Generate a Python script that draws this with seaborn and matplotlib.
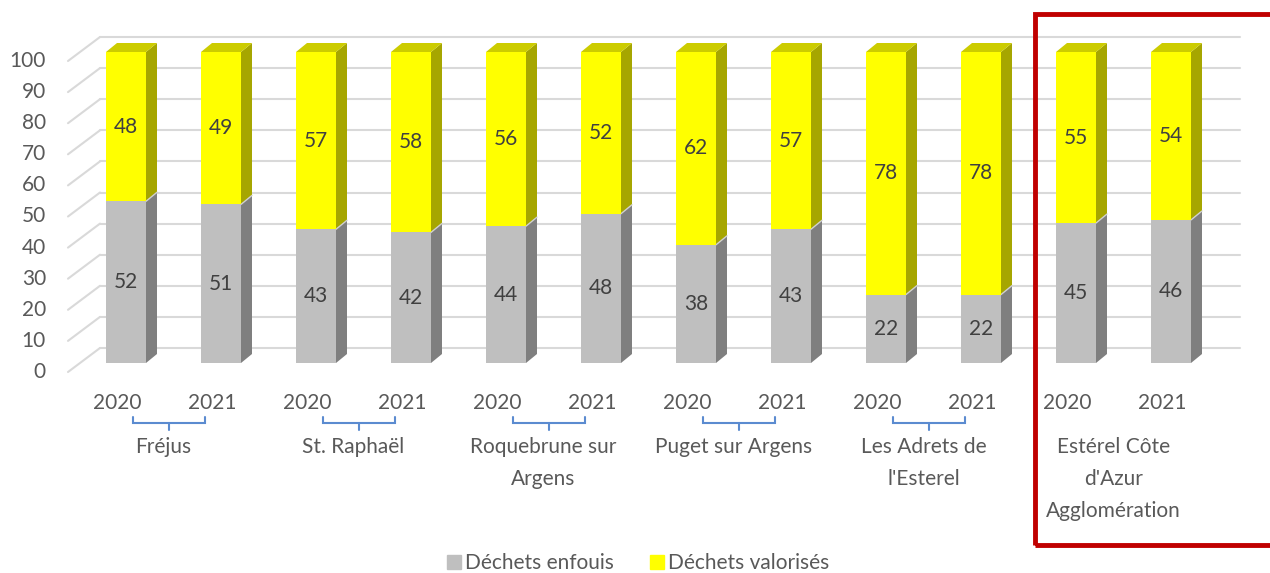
import numpy as np
import pandas as pd
import matplotlib
matplotlib.use("Agg")
import matplotlib.pyplot as plt
from matplotlib.patches import Polygon, Rectangle
from matplotlib.lines import Line2D
import seaborn as sns

# ---------------- data ----------------
groups = ["Fréjus", "St. Raphaël", "Roquebrune sur\nArgens", "Puget sur Argens",
          "Les Adrets de\nl'Esterel", "Estérel Côte\nd'Azur\nAgglomération"]
years = ["2020", "2021"]
enfouis = [52, 51, 43, 42, 44, 48, 38, 43, 22, 22, 45, 46]
valorises = [48, 49, 57, 58, 56, 52, 62, 57, 78, 78, 55, 54]
yticks = [0, 10, 20, 30, 40, 50, 60, 70, 80, 90, 100]
series_names = ["Déchets enfouis", "Déchets valorisés"]

# ---------------- style ----------------
sns.set_style("white")
plt.rcParams["font.family"] = ["Lato", "DejaVu Sans"]
TXT = "#595959"
GRAY_F, GRAY_S = "#BFBFBF", "#7F7F7F"
YEL_F, YEL_S, YEL_T = "#FFFF00", "#A6A600", "#CCCC00"
GRID = "#D9D9D9"
FS = 15

W, H = 1270, 573
fig = plt.figure(figsize=(W / 100, H / 100), dpi=100)
ax = fig.add_axes([0, 0, 1, 1])

# pixel <-> data helpers (layout only)
X0, XS = 126.0, 95.0     # px of first bar centre, px per category
Y0, YS = 363.0, 3.11     # px of value 0 (front), px per unit
def dx(px): return px / XS
def dy(px): return px / YS

labels = [f"{g}|{y}" for g in groups for y in years]
totals = [a + b for a, b in zip(enfouis, valorises)]
df = pd.DataFrame({"label": labels, "enfouis": enfouis, "total": totals})

bw = 40 / XS
sns.barplot(data=df, x="label", y="total", order=labels, color=YEL_F,
            saturation=1, width=bw, linewidth=0, ax=ax, zorder=3)
sns.barplot(data=df, x="label", y="enfouis", order=labels, color=GRAY_F,
            saturation=1, width=bw, linewidth=0, ax=ax, zorder=3)

ax.set_xlim(dx(-X0), dx(W - X0))
ax.set_ylim(dy(Y0 - H), dy(Y0))
ax.set_axis_off()

# ---------------- back wall grid ----------------
for v in yticks:
    yb = v + dy(15)
    ax.plot([dx(100 - X0), dx(1240 - X0)], [yb, yb], color=GRID, lw=1.5, zorder=1)
    ax.plot([dx(68 - X0), dx(100 - X0)], [v - dy(9), yb], color=GRID, lw=1.5, zorder=1)
    ax.text(dx(46 - X0), v - dy(9), str(v), ha="right", va="center",
            fontsize=FS, color=TXT)

# ---------------- 3D faces ----------------
ddx, ddy = dx(11), dy(9)
for i, (g, t) in enumerate(zip(enfouis, totals)):
    x0, x1 = i - bw / 2, i + bw / 2
    ax.add_patch(Polygon([(x1, 0), (x1 + ddx, ddy), (x1 + ddx, g + ddy), (x1, g)],
                         closed=True, fc=GRAY_S, ec="none", zorder=2))
    ax.add_patch(Polygon([(x1, g), (x1 + ddx, g + ddy), (x1 + ddx, t + ddy), (x1, t)],
                         closed=True, fc=YEL_S, ec="none", zorder=2))
    ax.add_patch(Polygon([(x0, t), (x1, t), (x1 + ddx, t + ddy), (x0 + ddx, t + ddy)],
                         closed=True, fc=YEL_T, ec="none", zorder=2))
    ax.plot([x1, x1 + ddx], [g, g + ddy], color="#D0D0D0", lw=1, zorder=2.5)
    # data labels
    ax.text(i, g / 2, str(g), ha="center", va="center", fontsize=FS,
            color="#404040", zorder=4)
    ax.text(i, g + (t - g) / 2, str(t - g), ha="center", va="center",
            fontsize=FS, color="#404040", zorder=4)
    # year labels
    ax.text(i - dx(9), dy(Y0 - 403), years[i % 2], ha="center", va="center",
            fontsize=FS, color=TXT)

# ---------------- group labels & brackets ----------------
BLUE = "#5B8BD0"
for k, g in enumerate(groups):
    mid = 2 * k + 0.5
    ax.text(mid - dx(10), dy(Y0 - 437), g, ha="center", va="top", fontsize=FS,
            color=TXT, linespacing=1.75, multialignment="center")
    if k < len(groups) - 1:
        c = mid - dx(5)
        hw = dx(36)
        yb = dy(Y0 - 423)
        ax.plot([c - hw, c - hw, c + hw, c + hw], [dy(Y0 - 417), yb, yb, dy(Y0 - 417)],
                color=BLUE, lw=1.5, solid_joinstyle="miter", zorder=2)
        ax.plot([c, c], [yb, dy(Y0 - 430)], color=BLUE, lw=1.5, zorder=2)

# ---------------- red box ----------------
fig.add_artist(Rectangle((1035 / W, 1 - 545 / H), (1290 - 1035) / W, (545 - 14) / H,
                         transform=fig.transFigure, fill=False, ec="#C00000", lw=3.5,
                         clip_on=False))

# ---------------- legend ----------------
handles = [Line2D([], [], marker="s", ls="none", ms=10, mfc=c, mec=c)
           for c in (GRAY_F, YEL_F)]
fig.legend(handles, series_names, loc="center", bbox_to_anchor=(637 / W, 1 - 563 / H),
           ncol=2, frameon=False, fontsize=FS, labelcolor=TXT, handletextpad=0.1,
           columnspacing=1.6, handlelength=0.9)

fig.savefig("out.png", dpi=100)
